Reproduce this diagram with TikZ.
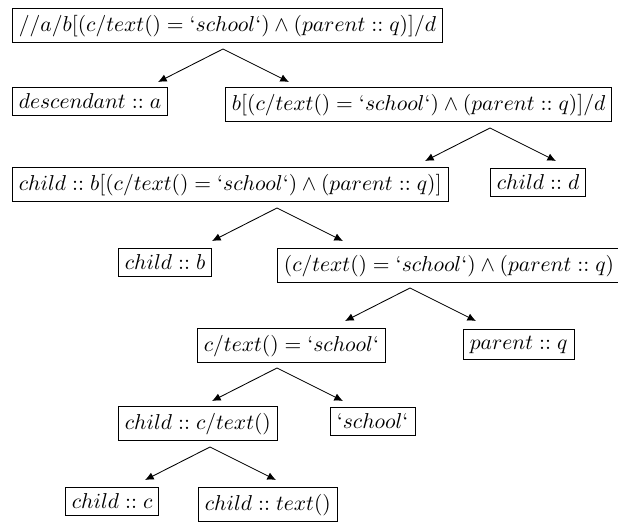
\documentclass[tikz,border=0pt]{standalone}
\usetikzlibrary{positioning,arrows.meta}
\begin{document}
\begin{tikzpicture}[>={Latex[length=4pt,width=3.6pt]}, x=0.464pt, y=-0.464pt, box/.style={draw, inner sep=3pt, anchor=north west}]
\useasboundingbox (0,0) rectangle (618,525);
\node[box] (top) at (12,8) {$//a/b[(c/text() = `school`) \wedge (parent :: q)]/d$};
\node[box] (desc) at (12,87) {$descendant :: a$};
\node[box] (bpred) at (225,87) {$b[(c/text() = `school`) \wedge (parent :: q)]/d$};
\node[box] (cbpred) at (12,167) {$child :: b[(c/text() = `school`) \wedge (parent :: q)]$};
\node[box] (cd) at (490,168) {$child :: d$};
\node[box] (cb) at (118,248) {$child :: b$};
\node[box] (pred) at (277,248) {$(c/text() = `school`) \wedge (parent :: q)$};
\node[box] (eq) at (197,328) {$c/text() = `school`$};
\node[box] (pq) at (463,329) {$parent :: q$};
\node[box] (ctext) at (118,406) {$child :: c/text()$};
\node[box] (lit) at (330,407) {$`school`$};
\node[box] (cc) at (65,487) {$child :: c$};
\node[box] (ct) at (198,487) {$child :: text()$};
% arrows below each inner node
\foreach \p/\ax/\ay in {top/223/49, bpred/490/128, cbpred/277/208, pred/410/288, eq/277/368, ctext/210/447} {
\coordinate (\p-v) at (\ax,\ay);
\draw[->] (\p-v) -- ++(-65,33);
\draw[->] (\p-v) -- ++(66,33);}
\end{tikzpicture}
\end{document}
